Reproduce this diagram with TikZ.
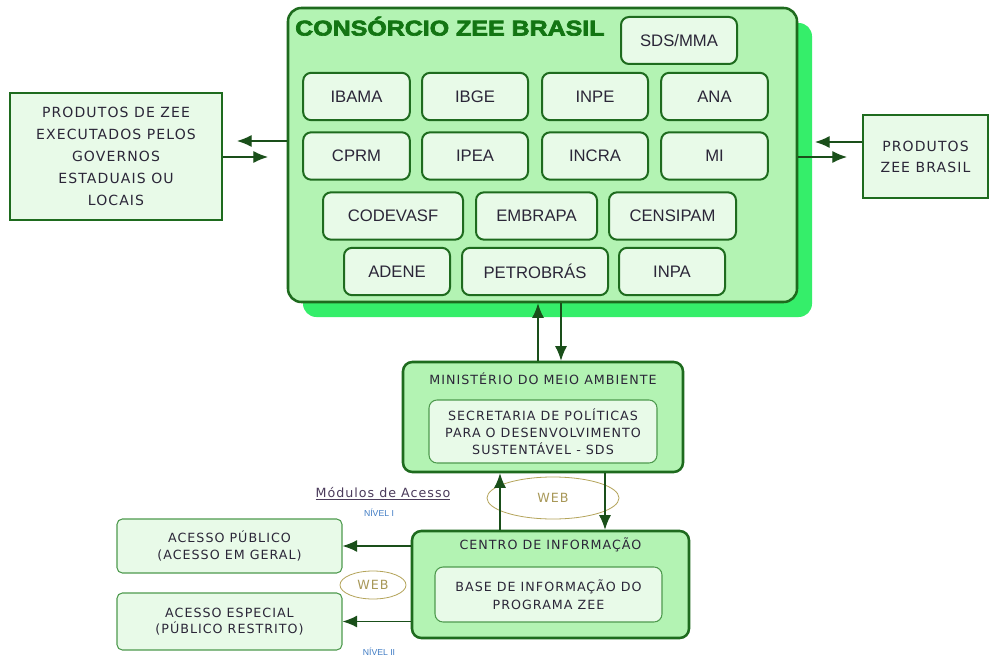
\documentclass[tikz,border=0pt]{standalone}
\usepackage{fontspec}
\usepackage{graphicx}
\setmainfont{DejaVu Sans}
\newfontfamily\arialfont{Liberation Sans}
\newfontfamily\verdfont[LetterSpace=8]{DejaVu Sans}
\newfontfamily\titlefont[BoldFeatures={FakeBold=3}]{Liberation Sans}
\usetikzlibrary{arrows.meta,positioning,shapes.geometric,shadows}

\definecolor{verdeescuro}{HTML}{1E6B1E}
\definecolor{verdeclaro}{HTML}{B3F3B3}
\definecolor{verdesombra}{HTML}{35EE6A}
\definecolor{verdepalido}{HTML}{E8FAE8}
\definecolor{verdemedio}{HTML}{4E9A4E}
\definecolor{verdetitulo}{HTML}{137513}
\definecolor{seta}{HTML}{1A4F1A}
\definecolor{texto}{HTML}{2B2638}
\definecolor{caqui}{HTML}{B4A45A}
\definecolor{caquitexto}{HTML}{A89858}
\definecolor{azulnivel}{HTML}{3F7BC4}
\definecolor{modulos}{HTML}{4B3B5B}

\tikzset{
    %Define standard arrow tip
    >={Latex[length=11pt,width=9pt]},
    %Define style for the consortium frame
    consorcio/.style={
           rectangle,
           rounded corners=10pt,
           draw=verdeescuro, line width=1.9pt,
           fill=verdeclaro,
           minimum width=381.75pt,
           minimum height=220.5pt,
           drop shadow={shadow xshift=11.25pt, shadow yshift=-11.25pt,
                        fill=verdesombra, opacity=1}},
    % Define style for the member boxes
    orgao/.style={
           rectangle,
           rounded corners=6pt,
           draw=verdeescuro, line width=1.5pt,
           fill=verdepalido,
           minimum height=35.5pt,
           inner sep=0pt,
           text=texto,
           font=\arialfont\fontsize{12.5}{14}\selectfont},
    produto/.style={
           rectangle,
           draw=verdeescuro, line width=1.5pt,
           fill=verdepalido,
           inner sep=0pt,
           align=center,
           text=texto,
           font=\verdfont\fontsize{10.5}{16.5}\selectfont},
    bloco/.style={
           rectangle,
           rounded corners=7pt,
           draw=verdeescuro, line width=1.9pt,
           fill=verdeclaro},
    interno/.style={
           rectangle,
           rounded corners=6pt,
           draw=verdemedio, line width=0.8pt,
           fill=verdepalido,
           inner sep=0pt,
           align=center,
           text=texto},
    acesso/.style={
           rectangle,
           rounded corners=4pt,
           draw=verdemedio, line width=0.8pt,
           fill=verdepalido,
           minimum width=168.75pt,
           inner sep=0pt,
           align=center,
           text=texto,
           font=\verdfont\fontsize{9.5}{12.5}\selectfont},
    rotulo/.style={
           text=texto,
           font=\verdfont\fontsize{9.5}{12}\selectfont},
    web/.style={
           ellipse,
           draw=caqui, line width=0.6pt,
           text=caquitexto,
           font=\verdfont\fontsize{9.5}{10}\selectfont},
    nivel/.style={
           text=azulnivel,
           inner sep=0pt,
           font=\arialfont\fontsize{6.5}{7}\selectfont},
    % Define arrow style
    pil/.style={
           ->,
           line width=0.9pt,
           draw=seta}
}

\begin{document}
\begin{tikzpicture}[x=0.75pt,y=-0.75pt]
    \path [use as bounding box, fill=white] (0,0) rectangle (989,656);

    % consortium
    \node (cons) [consorcio] at (542.5,155) {};
    \node (titulo) [anchor=base west, inner sep=0pt, text=verdetitulo,
          font=\titlefont\bfseries\fontsize{16}{16}\selectfont] at (295,35.5)
          {\scalebox{1.17}[1]{CONSÓRCIO ZEE BRASIL}};
    \node (sds) [orgao, minimum width=87pt, minimum height=35.25pt] at (679,40.5) {SDS/MMA};
    \node (ibama) [orgao, minimum width=80pt] at (356.5,96.5) {IBAMA};
    \node (ibge) [orgao, minimum width=79.5pt] at (475,96.5) {IBGE};
    \node (inpe) [orgao, minimum width=79.5pt] at (595,96.5) {INPE};
    \node (ana) [orgao, minimum width=80pt] at (714.5,96.5) {ANA};
    \node (cprm) [orgao, minimum width=80pt] at (356.5,156) {CPRM};
    \node (ipea) [orgao, minimum width=79.5pt] at (475,156) {IPEA};
    \node (incra) [orgao, minimum width=79.5pt] at (595,156) {INCRA};
    \node (mi) [orgao, minimum width=80pt] at (714.5,156) {MI};
    \node (codevasf) [orgao, minimum width=105pt] at (393,216) {CODEVASF};
    \node (embrapa) [orgao, minimum width=90.75pt] at (536.5,216) {EMBRAPA};
    \node (censipam) [orgao, minimum width=95.25pt] at (672.5,216) {CENSIPAM};
    \node (adene) [orgao, minimum width=79.5pt] at (397,271.5) {ADENE};
    \node (petrobras) [orgao, minimum width=109.5pt] at (535,271.5) {PETROBRÁS};
    \node (inpa) [orgao, minimum width=79.5pt] at (672,271.5) {INPA};

    % products
    \node (esq) [produto, minimum width=159pt, minimum height=95.25pt] at (116,156.5)
          {PRODUTOS DE ZEE\\EXECUTADOS PELOS\\GOVERNOS\\ESTADUAIS OU\\LOCAIS};
    \node (dir) [produto, minimum width=93.75pt, minimum height=62.25pt,
          font=\verdfont\fontsize{10.5}{15.75}\selectfont] at (925.5,156.5)
          {PRODUTOS\\ZEE BRASIL};

    % ministry
    \node (mma) [bloco, minimum width=210pt, minimum height=82.5pt] at (543,417) {};
    \node (mmatit) [rotulo] at (543,379) {MINISTÉRIO DO MEIO AMBIENTE};
    \node (sdsint) [interno, minimum width=171pt, minimum height=47.25pt,
          font=\verdfont\fontsize{9.5}{12.75}\selectfont] at (543,431.5)
          {SECRETARIA DE POLÍTICAS\\PARA O DESENVOLVIMENTO\\SUSTENTÁVEL - SDS};

    % information centre
    \node (centro) [bloco, minimum width=207.75pt, minimum height=80.25pt] at (550.5,584.5) {};
    \node (centrotit) [rotulo] at (550.5,545) {CENTRO DE INFORMAÇÃO};
    \node (base) [interno, minimum width=170.25pt, minimum height=41.25pt,
          font=\verdfont\fontsize{9.5}{13.5}\selectfont] at (548.5,594.5)
          {BASE DE INFORMAÇÃO DO\\PROGRAMA ZEE};

    % access modules
    \node (pub) [acesso, minimum height=40.5pt] at (229.5,546)
          {ACESSO PÚBLICO\\(ACESSO EM GERAL)};
    \node (esp) [acesso, minimum height=42.75pt] at (229.5,621.5)
          {ACESSO ESPECIAL\\(PÚBLICO RESTRITO)};
    \node (modulos) [text=modulos, font=\verdfont\fontsize{9.5}{12}\selectfont]
          at (383,494) {\underline{Módulos de Acesso}};
    \node (nivel1) [nivel] at (379,513) {NÍVEL I};
    \node (nivel2) [nivel] at (379,652) {NÍVEL II};
    \node (web1) [web, minimum width=99pt, minimum height=31.5pt] at (553,498) {WEB};
    \node (web2) [web, minimum width=49.5pt, minimum height=21pt] at (373,585) {WEB};

    % connectors
    \coordinate (setaesq) at (237,141);
    \coordinate (setaesq2) at (268,157);
    \coordinate (setadir) at (815,142);
    \coordinate (setadir2) at (847,157);
    \coordinate (sobe) at (538,0);
    \coordinate (desce) at (561,0);
    \coordinate (sobe2) at (500,0);
    \coordinate (desce2) at (605,0);
    \draw [pil] (setaesq -| cons.west) -- (setaesq);
    \draw [pil] (setaesq2 -| esq.east) -- (setaesq2);
    \draw [pil] (setadir -| dir.west) -- (setadir);
    \draw [pil] (setadir2 -| cons.east) -- (setadir2);
    \draw [pil] (sobe |- mma.north) -- (sobe |- cons.south);
    \draw [pil] (desce |- cons.south) -- (desce |- mma.north);
    \draw [pil] (sobe2 |- centro.north) -- (sobe2 |- mma.south);
    \draw [pil] (desce2 |- mma.south) -- (desce2 |- centro.north);
    \draw [pil] (pub.east -| centro.west) -- (pub.east);
    \draw [pil] (esp.east -| centro.west) -- (esp.east);
\end{tikzpicture}
\end{document}
